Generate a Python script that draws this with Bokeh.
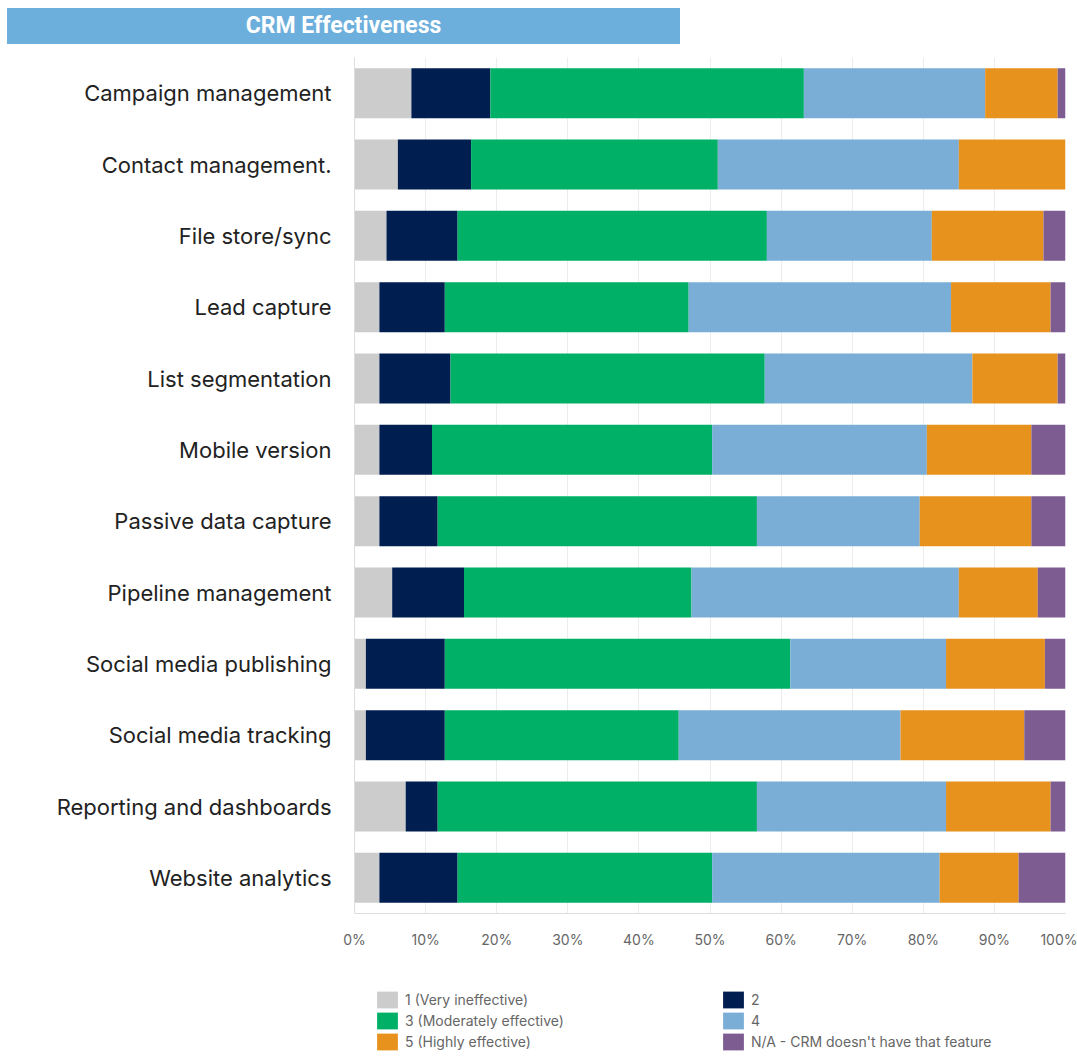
from bokeh.plotting import figure
from bokeh.models import (ColumnDataSource, Range1d, FactorRange, FixedTicker,
                          PrintfTickFormatter, Legend, LegendItem, Div)
from bokeh.layouts import column
from bokeh.embed import file_html
from bokeh.resources import INLINE

# ---------------- data ----------------
categories = [
    "Campaign management",
    "Contact management.",
    "File store/sync",
    "Lead capture",
    "List segmentation",
    "Mobile version",
    "Passive data capture",
    "Pipeline management",
    "Social media publishing",
    "Social media tracking",
    "Reporting and dashboards",
    "Website analytics",
]
very_ineffective = [8.0, 6.1, 4.5, 3.5, 3.5, 3.5, 3.5, 5.3, 1.6, 1.6, 7.2, 3.5]
score_2 = [11.1, 10.3, 10.0, 9.2, 10.0, 7.4, 8.2, 10.1, 11.1, 11.1, 4.5, 11.0]
moderately = [44.1, 34.7, 43.5, 34.3, 44.2, 39.4, 44.9, 32.0, 48.6, 32.9, 44.9, 35.8]
score_4 = [25.5, 33.9, 23.2, 36.9, 29.2, 30.2, 22.9, 37.6, 21.9, 31.2, 26.6, 32.0]
highly = [10.2, 15.0, 15.7, 14.0, 12.0, 14.7, 15.7, 11.1, 13.9, 17.4, 14.7, 11.1]
not_available = [1.1, 0.0, 3.1, 2.1, 1.1, 4.8, 4.8, 3.9, 2.9, 5.8, 2.1, 6.6]

series_keys = ["s1", "s2", "s3", "s4", "s5", "sna"]
series_labels = ["1 (Very ineffective)", "2", "3 (Moderately effective)", "4",
                 "5 (Highly effective)", "N/A - CRM doesn't have that feature"]
series_colors = ["#cccccc", "#001e50", "#00b067", "#7aaed6", "#e8921e", "#7d5c92"]
x_ticks = [0, 10, 20, 30, 40, 50, 60, 70, 80, 90, 100]
title_text = "CRM Effectiveness"

FONT = "Inter"

# ---------------- title strip ----------------
title_html = (
    '<div style="margin:8px 0 0 7px;width:673px;height:36px;line-height:36px;'
    'background:#6cafdc;color:#ffffff;font-family:Roboto, sans-serif;'
    'font-weight:bold;font-size:23px;text-align:center;">'
    + title_text + '</div>'
)
title_div = Div(text=title_html, width=1077, height=50, margin=0)

# ---------------- main chart ----------------
src = ColumnDataSource(dict(cat=categories, s1=very_ineffective, s2=score_2,
                            s3=moderately, s4=score_4, s5=highly, sna=not_available))

p = figure(width=1077, height=910,
           y_range=FactorRange(*reversed(categories), range_padding=0),
           x_range=Range1d(0, 100),
           output_backend="svg", toolbar_location=None,
           min_border_left=354, min_border_right=12, min_border_top=7,
           min_border_bottom=47, margin=0)
p.outline_line_color = None

p.hbar_stack(series_keys, y="cat", height=0.70, color=series_colors,
             source=src, line_color=None)

p.xaxis.ticker = FixedTicker(ticks=x_ticks)
p.xaxis.formatter = PrintfTickFormatter(format="%d%%")
p.xaxis.axis_line_color = "#dddddd"
p.xaxis.major_tick_line_color = None
p.xaxis.minor_tick_line_color = None
p.xaxis.major_label_text_font = FONT
p.xaxis.major_label_text_font_size = "14px"
p.xaxis.major_label_text_color = "#666666"
p.xaxis.major_label_standoff = 11

p.yaxis.axis_line_color = "#dddddd"
p.yaxis.major_tick_line_color = None
p.yaxis.minor_tick_line_color = None
p.yaxis.major_label_text_font = FONT
p.yaxis.major_label_text_font_size = "22px"
p.yaxis.major_label_text_color = "#222222"
p.yaxis.major_label_standoff = 17

p.xgrid.ticker = FixedTicker(ticks=x_ticks)
p.xgrid.grid_line_color = "#ececec"
p.ygrid.grid_line_color = None

# ---------------- legend strip ----------------
lg_fig = figure(width=1077, height=103, x_range=Range1d(0, 100),
                y_range=FactorRange(*reversed(categories)),
                output_backend="svg", toolbar_location=None,
                min_border_left=354, min_border_right=12, min_border_top=0,
                min_border_bottom=0, margin=0)
lg_fig.axis.visible = False
lg_fig.grid.visible = False
lg_fig.outline_line_color = None

# same series, hidden: only used to draw the legend swatches
lg_renderers = lg_fig.hbar_stack(series_keys, y="cat", height=0.7, color=series_colors,
                                 source=src, line_color=None)
for r in lg_renderers:
    r.visible = False


def make_legend(idxs, loc):
    items = [LegendItem(label=series_labels[i], renderers=[lg_renderers[i]]) for i in idxs]
    return Legend(items=items, location=loc, orientation="vertical",
                  glyph_width=26, glyph_height=21, label_height=21, spacing=0,
                  padding=0, margin=0, label_standoff=5,
                  label_text_font=FONT, label_text_font_size="14px",
                  label_text_color="#666666", click_policy="none",
                  border_line_color=None, background_fill_alpha=0)


lg_fig.add_layout(make_legend([0, 2, 4], (20, 11)), "center")
lg_fig.add_layout(make_legend([1, 3, 5], (366, 11)), "center")

layout = column(title_div, p, lg_fig, spacing=0)

open("out.html", "w").write(file_html(layout, INLINE))
